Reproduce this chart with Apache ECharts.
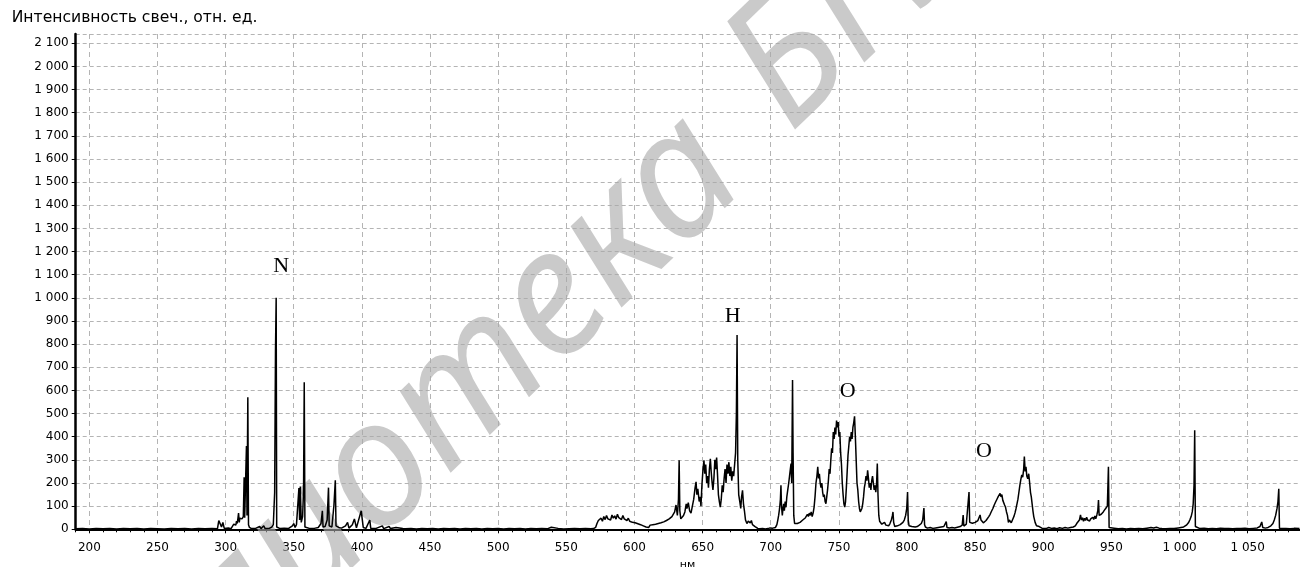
<!DOCTYPE html>
<html>
<head>
<meta charset="utf-8">
<title>Спектр свечения</title>
<script src="https://cdn.jsdelivr.net/npm/echarts@6/dist/echarts.min.js"></script>
<style>
  html, body { margin: 0; padding: 0; background: #ffffff; }
  #chart { width: 1300px; height: 567px; }
</style>
</head>
<body>
<div id="chart"></div>
<script>
// Emission spectrum: wavelength, nm -> glow intensity, relative units.

// 190–430 nm: N2 second positive system
const uvBand = [
  [190,2],[195,3],[200,1],[205,4],[210,2],[215,3],[220,1],[225,3],[230,2],[235,4],[240,1],[245,3],
  [250,2],[255,1],[260,3],[265,2],[270,4],[275,1],[280,3],[285,2],[290,3],[294,2],
  [295,38],[296,40],[297,10],[298,30],[299,4],[300,3],[302,6],[304,3],[305,10],[306,22],[307,28],
  [307.5,18],[308,35],[308.5,25],[309,45],[309.5,70],[310,30],[310.5,48],[311,40],[311.5,52],[312,45],
  [312.5,50],[313,55],[313.6,225],[314,50],[314.5,55],[315.3,360],[315.7,60],[316.3,570],[316.8,20],
  [317.5,8],[319,3],[322,4],[325,12],[326,3],[328,15],[329,3],[332,4],[334,10],[335,20],[336,160],
  [336.6,770],[337.1,1000],[337.5,10],[338,4],[340,3],[343,5],[346,3],[349,15],[350,25],[351,8],[352,20],
  [353.8,178],[354.3,40],[354.8,185],[355.5,30],[356.5,55],[357.2,170],[357.7,635],[358.2,10],[359,5],
  [362,3],[365,4],[368,8],[370,25],[371,80],[371.5,10],[373,12],[374.5,40],[375.5,180],[376,15],[378,10],
  [379.5,105],[380.5,212],[381,15],[383,8],[385,5],[388,15],[389.5,30],[390.5,5],[393,20],[394.5,45],
  [395.5,40],[396,6],[399.5,80],[400.3,75],[401,8],[403,4],[405.8,40],[406.5,4],[410,3],[415,15],[416,3],
  [420,12],[421,3],[425,8],[426,2],[430,3]
];

// 430–700 nm: continuum bands and H-alpha
const visibleBand = [
  [432,2],[436,4],[440,1],[444,3],[448,2],[452,4],[456,1],[460,3],[464,2],[468,3],[472,1],[476,4],
  [480,2],[484,3],[488,1],[492,3],[496,2],[500,4],[504,1],[508,3],[512,2],[516,3],[520,1],[524,3],
  [528,2],[532,4],[536,2],[539,9],[540,3],[544,4],[548,1],[552,2],[556,3],[560,2],[564,3],[568,2],[570,3],
  [571.5,8],[572.5,25],[573.5,38],[574.5,30],[575.5,48],[576.5,35],[577.5,55],[578.5,42],[579.5,60],
  [580.5,45],[581.5,52],[582.5,40],[583.5,62],[584.5,48],[585.5,58],[586.5,44],[587.5,65],[588.5,50],
  [589.5,56],[590.5,42],[591.5,60],[592.5,45],[593.5,52],[594.5,38],[595.5,48],[596.5,35],[597.5,42],
  [598.5,30],[599.5,38],[600.5,28],[601.5,35],[602.5,24],[603.5,30],[604.5,20],[605.5,25],[606.5,15],
  [607.5,20],[608.5,10],[609.5,14],[610.5,8],[611.5,18],[612.5,12],[613.5,20],[614.5,15],[615.5,22],
  [616.5,18],[617.5,25],[618.5,20],[619.5,28],[620.5,24],[621.5,32],[622.5,28],[623.5,38],[624.5,30],
  [625.5,45],[626.5,40],[627.5,55],[628.5,48],[629.5,75],[630.5,105],[631.5,60],[632.3,130],[632.8,298],
  [633.3,80],[634,45],[635,38],[636,60],[637,75],[638,110],[638.5,90],[639.5,115],[640.5,80],[641.5,70],
  [642.5,100],[643.5,130],[644.5,180],[645.2,205],[645.8,150],[646.5,175],[647.5,120],[648.2,140],
  [648.8,100],[649.5,190],[650.3,260],[651,298],[651.6,240],[652.3,280],[653,200],[653.7,230],[654.3,180],
  [655,260],[655.7,305],[656.3,250],[657,200],[657.6,170],[658.3,220],[659,300],[659.6,260],[660.3,310],
  [661,230],[661.6,150],[662.3,120],[663,96],[663.7,130],[664.4,190],[665.1,160],[665.8,220],[666.5,260],
  [667.2,200],[667.9,280],[668.6,240],[669.3,290],[670,230],[670.7,270],[671.4,210],[672.1,250],
  [672.8,230],[673.5,280],[674.2,330],[674.8,500],[675.3,840],[675.8,300],[676.5,150],[677.3,120],
  [678,90],[678.6,140],[679.3,168],[680,110],[680.7,80],[681.5,40],[682.5,25],[683.5,35],[684.3,42],
  [685,28],[685.8,38],[686.6,20],[687.5,25],[688.5,12],[689.5,8],[690.5,4],[692,2],[694,3],[696,1],
  [698,3],[699.5,6]
];

// 700–900 nm: O I triplets and neighbouring lines
const nearIrBand = [
  [700.5,10],[701.5,5],[702.5,12],[703.5,8],[704.5,20],[705.2,40],[705.8,60],[706.5,90],[707.1,130],
  [707.5,190],[707.9,100],[708.5,60],[709,90],[709.5,110],[710,80],[710.6,120],[711.2,95],[711.8,140],
  [712.5,170],[713.2,200],[713.8,230],[714.4,260],[714.9,284],[715.4,200],[716,645],[716.4,330],
  [716.9,60],[717.5,25],[718.5,20],[719.5,25],[720.5,22],[721.5,30],[722.5,28],[723.5,40],[724.5,35],
  [725.5,50],[726.2,45],[726.9,65],[727.6,55],[728.3,70],[729,60],[729.7,75],[730.4,55],[731.1,70],
  [731.8,95],[732.5,140],[733.2,200],[733.9,230],[734.5,270],[735.1,220],[735.7,240],[736.3,200],
  [736.9,180],[737.5,200],[738.1,160],[738.7,140],[739.3,150],[739.9,120],[740.5,111],[741.1,140],
  [741.7,170],[742.3,210],[742.9,260],[743.5,240],[744.1,300],[744.7,350],[745.3,330],[745.9,420],
  [746.5,390],[747.1,440],[747.7,410],[748.3,470],[748.9,440],[749.5,463],[750.1,400],[750.7,420],
  [751.3,330],[751.9,280],[752.5,200],[753.1,150],[753.7,110],[754.3,96],[754.9,120],[755.5,180],
  [756.1,250],[756.7,320],[757.3,360],[757.9,400],[758.5,380],[759.1,420],[759.7,390],[760.3,440],
  [760.9,460],[761.5,488],[762.1,400],[762.7,300],[763.3,200],[763.9,170],[764.5,120],[765.1,90],
  [765.7,75],[766.3,68],[766.9,90],[767.5,110],[768.1,140],[768.7,180],[769.3,200],[769.9,230],
  [770.5,210],[771.1,255],[771.7,220],[772.3,180],[772.9,200],[773.5,170],[774.1,210],[774.7,230],
  [775.3,200],[775.9,170],[776.5,190],[777.1,160],[777.7,200],[778.2,284],[778.7,150],[779.3,60],
  [779.9,35],[780.5,28],[781.5,22],[782.5,18],[783.5,30],[784.5,18],[785.5,10],[786.5,15],[787.5,25],
  [788.5,40],[789.3,60],[789.7,75],[790.2,30],[791,12],[792,10],[793,15],[794,12],[795,20],[796,25],
  [797,30],[798,40],[799,60],[799.8,90],[800.4,161],[800.9,40],[801.5,15],[802.5,10],[803.5,12],
  [804.5,8],[806,10],[807.5,12],[809,18],[810.5,25],[811.5,40],[812.4,92],[812.9,20],[813.5,10],
  [815,5],[817,8],[819,4],[821,6],[823,8],[825,10],[827,12],[828.8,33],[829.3,8],[831,6],[833,8],
  [835,6],[837,9],[839,12],[840.5,18],[841.2,62],[841.7,14],[842.5,18],[843.5,22],[844.5,30],
  [845.5,161],[846,30],[847,22],[848,26],[849,24],[850,30],[851,32],[852,38],[853,45],[853.6,62],
  [854.3,40],[855,32],[856,28],[857,30],[858,38],[859,45],[860,55],[861,65],[862,78],[863,90],[864,105],
  [865,118],[866,130],[867,142],[867.7,150],[868.3,155],[869,140],[869.6,150],[870.3,125],[871,120],
  [871.6,105],[872.3,95],[873,75],[873.7,60],[874.4,30],[875.1,40],[875.8,35],[876.5,28],[877.2,38],
  [877.9,48],[878.6,58],[879.3,72],[880,90],[880.7,110],[881.4,130],[882.1,160],[882.8,190],[883.5,215],
  [884.2,235],[884.9,225],[885.6,260],[886.1,314],[886.7,250],[887.3,270],[887.9,230],[888.6,219],
  [889.3,240],[890,200],[890.6,160],[891.2,140],[891.8,110],[892.4,80],[893,55],[894,30],[895,15],
  [896,10],[897,12],[898,8],[899,5]
];

// 900–1088 nm: IR lines
const irBand = [
  [900,6],[902,3],[904,8],[906,4],[908,6],[910,3],[912,7],[914,4],[916,8],[918,5],[920,8],[922,10],
  [923.5,15],[924.5,25],[925.5,20],[926.5,40],[927.3,62],[928,40],[928.8,50],[929.5,35],[930.3,48],
  [931,38],[931.8,52],[932.5,40],[933.3,48],[934,36],[934.8,45],[935.5,40],[936.3,52],[937,42],
  [937.8,58],[938.5,45],[939.3,62],[940,80],[940.5,126],[941,60],[941.8,55],[942.5,65],[943.3,70],
  [944,75],[944.8,80],[945.5,88],[946.3,92],[947,100],[947.8,270],[948.3,8],[949.5,3],[952,5],[955,2],
  [958,4],[961,1],[964,3],[967,2],[970,4],[973,2],[976,5],[979,8],[981,6],[983,9],[985,5],[987,3],
  [990,2],[993,4],[996,3],[999,6],[1001,8],[1003,10],[1005,18],[1006.5,28],[1007.5,40],[1008.5,55],
  [1009.3,75],[1010,110],[1010.6,190],[1011.1,428],[1011.6,12],[1012.5,4],[1015,3],[1018,5],[1021,2],
  [1024,4],[1027,2],[1030,5],[1033,3],[1036,4],[1039,2],[1042,4],[1045,3],[1048,5],[1051,2],[1054,4],
  [1057,6],[1059,12],[1060.3,32],[1061,8],[1063,5],[1065,8],[1067,15],[1068.5,25],[1069.5,40],
  [1070.5,60],[1071.5,90],[1072.2,120],[1072.8,175],[1073.3,5],[1075,3],[1078,4],[1081,2],[1084,4],
  [1088,3]
];

// Axis ticks
const wavelengthTicks = [200,250,300,350,400,450,500,550,600,650,700,750,800,850,900,950,1000,1050];
const wavelengthMinorTicks = [];
for (let w = 190; w <= 1088; w += 10) wavelengthMinorTicks.push(w);

// Element labels placed in data coordinates (nm, intensity)
const elementLabels = [
  { text: 'N', nm: 340.7, level: 1137 },
  { text: 'H', nm: 672.0, level: 922 },
  { text: 'O', nm: 756.4, level: 597 },
  { text: 'O', nm: 856.5, level: 338 }
];

const watermarkWords = ['Библиотека', 'БГУИР'];

const spectrum = [].concat(uvBand, visibleBand, nearIrBand, irBand);

function groupThousands(v) {
  if (v >= 1000) {
    return Math.floor(v / 1000) + ' ' + String(v % 1000).padStart(3, '0');
  }
  return String(v);
}

const chart = echarts.init(document.getElementById('chart'), null, { renderer: 'canvas' });

const labelFont = 'DejaVu Sans, Verdana, sans-serif';

chart.setOption({
  animation: false,
  backgroundColor: '#ffffff',
  grid: { left: 75.7, top: 34, width: 1223.8, height: 495.3, containLabel: false, outerBoundsMode: 'none' },
  xAxis: [
    {
      type: 'value',
      min: 190,
      max: 1088,
      name: 'нм',
      nameLocation: 'middle',
      nameGap: 29,
      nameTextStyle: { color: '#000', fontSize: 11, fontFamily: labelFont, verticalAlign: 'top' },
      axisLine: { show: true, onZero: false, lineStyle: { color: '#000', width: 2 } },
      axisTick: { show: true, customValues: wavelengthTicks, length: 4, lineStyle: { color: '#000' } },
      axisLabel: {
        customValues: wavelengthTicks,
        color: '#000', fontSize: 12, fontFamily: labelFont, margin: 13,
        formatter: groupThousands
      },
      splitLine: { show: true, lineStyle: { color: '#b4b4b4', type: [5, 4], width: 1 } }
    },
    {
      type: 'value',
      min: 190,
      max: 1088,
      position: 'bottom',
      axisLine: { show: false },
      axisTick: { show: true, customValues: wavelengthMinorTicks, length: 3, lineStyle: { color: '#000' } },
      axisLabel: { show: false },
      splitLine: { show: false }
    }
  ],
  yAxis: {
    type: 'value',
    min: 0,
    max: 2140,
    interval: 100,
    name: 'Интенсивность свеч., отн. ед.',
    nameLocation: 'end',
    nameGap: 8,
    nameTextStyle: {
      color: '#000', fontSize: 15.6, fontFamily: labelFont,
      align: 'left', verticalAlign: 'bottom', padding: [0, 0, 0, -64]
    },
    axisLine: { show: true, lineStyle: { color: '#000', width: 2.5 } },
    axisTick: { show: true, length: 4, lineStyle: { color: '#000' } },
    axisLabel: { color: '#000', fontSize: 12, fontFamily: labelFont, margin: 7, formatter: groupThousands,
      showMaxLabel: false },
    splitLine: { show: true, lineStyle: { color: '#b4b4b4', type: [4, 3], width: 1 } }
  },
  series: [{
    type: 'line',
    xAxisIndex: 0,
    data: spectrum,
    showSymbol: false,
    symbol: 'none',
    sampling: false,
    z: 5,
    lineStyle: { color: '#000', width: 1.5 }
  }]
});

// Watermark across the plot and element labels above the lines
const rot = 44 * Math.PI / 180;
const markFont = 'italic 175px "Noto Sans", "Open Sans", sans-serif';
const markFill = 'rgba(170,170,170,0.62)';
const graphics = [
  {
    type: 'text', x: 716, y: 147, rotation: rot, z: 1, silent: true,
    style: { text: watermarkWords[0], fill: markFill, font: markFont, textAlign: 'right', textVerticalAlign: 'middle' }
  },
  {
    type: 'text', x: 756, y: 98, rotation: rot, z: 1, silent: true,
    style: { text: watermarkWords[1], fill: markFill, font: markFont, textAlign: 'left', textVerticalAlign: 'middle' }
  }
];
elementLabels.forEach(function (lab) {
  const p = chart.convertToPixel({ gridIndex: 0 }, [lab.nm, lab.level]);
  graphics.push({
    type: 'text', x: p[0], y: p[1], z: 10, silent: true,
    style: {
      text: lab.text, fill: '#000',
      font: '22px "Liberation Serif", "Times New Roman", serif',
      textAlign: 'center', textVerticalAlign: 'middle'
    }
  });
});
chart.setOption({ graphic: graphics });
</script>
</body>
</html>
